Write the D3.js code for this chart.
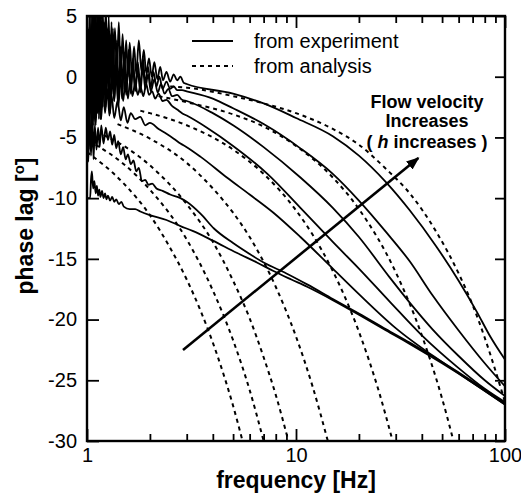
<!DOCTYPE html>
<html>
<head>
<meta charset="utf-8">
<script src="https://cdn.jsdelivr.net/npm/d3@7/dist/d3.min.js"></script>
<style>
  body { margin: 0; background: #fff; }
  text { font-family: "Liberation Sans", Arial, sans-serif; }
</style>
</head>
<body>
<svg id="chart" width="521" height="498"></svg>
<script>
// ---- data: [frequency Hz, phase lag deg] ----
var yTicks = [5, 0, -5, -10, -15, -20, -25, -30];
var xMajorTicks = [1, 10, 100];
var xMinorTicks = [2, 3, 4, 5, 6, 7, 8, 9, 20, 30, 40, 50, 60, 70, 80, 90];

// experiment (solid), lowest start first
var exp1 = [[1.0,-10],[1.035,-10],[1.045,-8.5],[1.055,-7.8],[1.07,-9.2],[1.085,-8.6],[1.1,-9.6],[1.115,-9.0],[1.13,-9.8],[1.145,-9.3],[1.16,-9.9],[1.18,-9.4],[1.2,-10],[1.22,-9.6],[1.24,-10.1],[1.26,-9.8],[1.29,-10.2],[1.32,-9.9],[1.35,-10.3],[1.38,-10.1],[1.42,-10.5],[1.46,-10.3],[1.5,-10.7],[1.6,-10.9],[1.7,-10.9],[1.8,-11.1],[2.0,-11.4],[2.4,-11.8],[2.8,-12.3],[3.2,-12.7],[4,-13.5],[5.2,-14.5],[6.5,-15.3],[7.8,-16],[9.5,-16.7],[11.3,-17.3],[15,-18.4],[20,-19.6],[27,-20.9],[35,-22],[50,-23.6],[70,-25.2],[100,-27]];
var exp2 = [[1.0,-4],[1.015,-7],[1.03,-3],[1.045,-6.5],[1.06,-3.5],[1.075,-6.8],[1.09,-4],[1.11,-6],[1.13,-4.2],[1.15,-5.8],[1.17,-4],[1.2,-5.5],[1.23,-4.2],[1.26,-5.2],[1.29,-4.5],[1.32,-5.6],[1.35,-4.8],[1.38,-5.9],[1.41,-5.3],[1.45,-6.4],[1.49,-5.8],[1.53,-6.8],[1.57,-6.4],[1.62,-7.2],[1.67,-6.9],[1.72,-7.8],[1.77,-7.5],[1.83,-8.6],[1.9,-8.5],[1.97,-8.9],[2.05,-8.8],[2.15,-9.2],[2.3,-9.4],[2.5,-9.7],[2.8,-10],[3.0,-10.3],[3.5,-11.3],[4.05,-12.5],[5,-13.7],[6,-14.6],[7,-15.3],[9,-16.2],[11.3,-17.1],[15,-18.3],[20,-19.5],[27,-20.8],[35,-21.9],[50,-23.5],[70,-25.1],[100,-26.9]];
var exp3 = [[1.0,-1],[1.02,-6],[1.04,0],[1.06,-5],[1.08,1],[1.1,-4],[1.13,0],[1.16,-3.5],[1.19,-0.5],[1.22,-3],[1.25,-1],[1.28,-3.2],[1.31,-1.5],[1.35,-3.4],[1.4,-2],[1.45,-3.6],[1.5,-2.5],[1.56,-3.8],[1.62,-3.0],[1.7,-3.5],[1.8,-3.3],[1.9,-4.0],[2.0,-3.8],[2.2,-4.3],[2.4,-4.7],[2.6,-5.1],[2.8,-5.5],[3.0,-5.8],[3.5,-6.6],[4.67,-8.3],[6,-9.7],[7.8,-11.2],[10.5,-13.2],[15,-15.8],[20,-17.9],[30,-20.7],[50,-23.5],[70,-25.2],[100,-27]];
var exp4 = [[1.0,-1],[1.02,3],[1.04,-3],[1.06,2],[1.08,-4],[1.1,1],[1.12,-3],[1.14,1.5],[1.17,-3.5],[1.2,0.5],[1.23,-2.5],[1.26,1],[1.29,-3],[1.32,0],[1.35,-2],[1.38,0.5],[1.41,-2.5],[1.45,-0.2],[1.49,-2],[1.53,0],[1.57,-1.8],[1.61,-0.2],[1.65,-1.6],[1.7,-0.5],[1.75,-1.5],[1.8,-0.8],[1.86,-1.6],[1.92,-0.6],[1.98,-1.5],[2.05,-1.2],[2.12,-1.8],[2.2,-1.4],[2.3,-2],[2.4,-1.9],[2.55,-2.4],[2.7,-2.7],[2.85,-3],[3.0,-3.2],[3.75,-4.2],[5,-5.7],[7.3,-8],[10.5,-10.8],[15,-13.6],[20,-15.8],[28,-18.5],[40,-21.3],[60,-24],[80,-25.7],[100,-26.8]];
var exp5 = [[1.0,3],[1.02,-5],[1.04,2],[1.06,-4],[1.08,3.5],[1.1,-3],[1.12,4],[1.14,-3.5],[1.16,3],[1.18,-2.5],[1.2,3.5],[1.23,-2],[1.26,2.5],[1.29,-2.5],[1.32,2],[1.35,-2],[1.38,1.8],[1.41,-2.2],[1.44,1.2],[1.47,-1.8],[1.5,1],[1.54,-1.5],[1.58,1.2],[1.62,-1.4],[1.66,0.8],[1.7,-1.2],[1.75,0.5],[1.8,-1.3],[1.85,0.8],[1.9,-1],[1.96,0.2],[2.02,-1.2],[2.1,-0.2],[2.18,-1.3],[2.26,-0.6],[2.35,-1.4],[2.45,-1],[2.55,-1.6],[2.7,-1.5],[2.85,-1.9],[3.0,-2.0],[4,-3.0],[5,-4.0],[7,-5.8],[10.5,-8.3],[15,-10.8],[20,-13.2],[28,-16.5],[35,-18.6],[45,-20.8],[60,-23],[80,-25],[100,-26.3]];
var exp6 = [[1.0,-2],[1.015,4],[1.03,-4],[1.045,5],[1.06,-3],[1.075,6],[1.09,-2],[1.105,5],[1.12,-3],[1.135,6.5],[1.15,-2],[1.17,5],[1.19,-2.5],[1.21,4.5],[1.23,-1.5],[1.25,4],[1.27,-2],[1.29,3.5],[1.31,-1.5],[1.33,4],[1.36,-1],[1.39,3],[1.42,-1.5],[1.45,2.5],[1.48,-1],[1.51,2],[1.54,-1.2],[1.58,2.2],[1.62,-0.8],[1.66,1.5],[1.7,-1],[1.75,1.2],[1.8,-0.8],[1.85,1.6],[1.9,-0.5],[1.96,0.8],[2.02,-0.9],[2.08,0.4],[2.15,-0.8],[2.22,0],[2.3,-1],[2.4,-0.4],[2.5,-1],[2.6,-0.8],[2.7,-1.1],[2.85,-1.1],[3.0,-1.2],[4,-1.8],[5,-2.6],[7,-3.9],[10.5,-5.9],[15,-8],[20,-10.2],[27,-12.8],[35,-15.2],[45,-18],[60,-20.9],[80,-23.6],[100,-25.5]];
var exp7 = [[1.0,1.5],[1.015,-3],[1.03,5.5],[1.045,-1],[1.06,6],[1.075,0.5],[1.09,7],[1.105,-1.5],[1.12,6],[1.135,0],[1.15,7],[1.17,-1],[1.19,5.5],[1.21,0.5],[1.23,6],[1.25,-0.5],[1.27,5],[1.29,0],[1.31,4.5],[1.33,-0.5],[1.36,4],[1.39,0.5],[1.42,4.5],[1.45,0],[1.48,3.5],[1.51,0.5],[1.54,3],[1.57,0],[1.6,2.8],[1.64,0.3],[1.68,2.5],[1.72,0.2],[1.77,3],[1.82,0.5],[1.87,2.2],[1.92,0.3],[1.98,1.5],[2.04,0],[2.1,1.2],[2.17,-0.2],[2.24,0.8],[2.31,-0.3],[2.4,0.4],[2.5,-0.4],[2.6,0.2],[2.7,-0.3],[2.8,0],[2.9,-0.5],[3.0,-0.6],[5,-1.4],[7,-2.2],[10,-3.4],[15,-4.9],[20,-6.5],[27,-8.7],[35,-11],[47,-14],[60,-16.8],[73,-19.3],[85,-21.4],[100,-23.3]];

// analysis (dashed)
var ana1 = [[1.0,-6.2],[1.5,-8.8],[2,-11.4],[2.5,-14.1],[3,-16.7],[3.5,-19.3],[4,-21.9],[4.5,-24.5],[5,-27.1],[5.55,-30]];
var ana2 = [[1.1,-5.6],[1.5,-7.2],[2,-9.3],[3,-13.4],[4,-17.6],[5,-21.7],[6,-25.8],[7,-30]];
var ana3 = [[1.2,-4.8],[1.5,-5.7],[2,-7.3],[3,-10.5],[4,-13.6],[5,-16.8],[6,-19.9],[7,-23.1],[8,-26.2],[9.2,-30]];
var ana4 = [[1.4,-3.9],[2,-5.1],[3,-7.1],[4,-9.2],[5,-11.2],[6,-13.2],[8,-17.3],[10,-21.4],[12,-25.5],[14.2,-30]];
var ana5 = [[1.8,-2.8],[2,-3],[3,-4],[5,-6],[7,-8],[10,-11],[12,-13],[15,-16],[20,-21],[25,-26],[29,-30]];
var ana6 = [[2.2,-1.6],[3,-2.1],[5,-3.1],[7,-4.1],[10,-5.7],[15,-8.3],[20,-10.9],[30,-16.1],[40,-21.3],[50,-26.5],[56.7,-30]];
var ana7 = [[2.5,-0.8],[3,-0.9],[5,-1.6],[7,-2.2],[10,-3.0],[15,-4.3],[20,-5.6],[27,-7.6],[35,-9.6],[47,-12.8],[60,-16.2],[70,-18.8],[80,-21.5],[90,-24.2],[100,-26.8]];

var experiment = [exp1, exp2, exp3, exp4, exp5, exp6, exp7];
var analysis = [ana1, ana2, ana3, ana4, ana5, ana6, ana7];

// arrow "flow velocity increases"
var arrowFrom = [2.88, -22.5];
var arrowTo = [38.5, -6.7];

var dimensions = {
  width: 521,
  height: 498,
  margin: { top: 16, right: 16, bottom: 57, left: 87 }
};
var plotRight = dimensions.width - dimensions.margin.right;
var plotBottom = dimensions.height - dimensions.margin.bottom;

var svg = d3.select("#chart");

var x = d3.scaleLog()
  .domain([1, 100])
  .range([dimensions.margin.left, plotRight]);

var y = d3.scaleLinear()
  .domain([-30, 5])
  .range([plotBottom, dimensions.margin.top]);

svg.append("defs").append("clipPath")
  .attr("id", "plotclip")
  .append("rect")
  .attr("x", dimensions.margin.left)
  .attr("y", dimensions.margin.top)
  .attr("width", plotRight - dimensions.margin.left)
  .attr("height", plotBottom - dimensions.margin.top);

svg.select("defs").append("marker")
  .attr("id", "head")
  .attr("viewBox", "0 0 10 10")
  .attr("refX", 9).attr("refY", 5)
  .attr("markerWidth", 5).attr("markerHeight", 5)
  .attr("markerUnits", "strokeWidth")
  .attr("orient", "auto")
  .append("path")
  .attr("d", "M0,1 L10,5 L0,9 Z")
  .attr("fill", "#000");

var line = d3.line()
  .x(function(d) { return x(d[0]); })
  .y(function(d) { return y(d[1]); })
  .curve(d3.curveMonotoneX);

var curves = svg.append("g").attr("clip-path", "url(#plotclip)");

curves.selectAll("path.ana")
  .data(analysis)
  .enter().append("path")
  .attr("class", "ana")
  .attr("d", line)
  .attr("fill", "none")
  .attr("stroke", "#000")
  .attr("stroke-width", 2)
  .attr("stroke-dasharray", "4,4");

curves.selectAll("path.exp")
  .data(experiment)
  .enter().append("path")
  .attr("class", "exp")
  .attr("d", line)
  .attr("fill", "none")
  .attr("stroke", "#000")
  .attr("stroke-width", 1.8)
  .attr("stroke-linejoin", "round");

// axes, ticks point inward
function styleAxis(g) {
  g.select(".domain").remove();
  g.selectAll(".tick line").attr("stroke", "#000").attr("stroke-width", 1.8);
  g.selectAll(".tick text")
    .attr("fill", "#000")
    .style("font-size", "20px");
}

svg.append("g")
  .attr("transform", "translate(" + dimensions.margin.left + ",0)")
  .call(d3.axisLeft(y).tickValues(yTicks).tickSize(-12).tickPadding(10)
    .tickFormat(function(d) { return String(d); }))
  .call(styleAxis);

svg.append("g")
  .attr("transform", "translate(" + plotRight + ",0)")
  .call(d3.axisRight(y).tickValues(yTicks).tickSize(-10).tickFormat(""))
  .call(styleAxis);

svg.append("g")
  .attr("transform", "translate(0," + plotBottom + ")")
  .call(d3.axisBottom(x).tickValues(xMinorTicks).tickSize(-7).tickFormat(""))
  .call(styleAxis);

svg.append("g")
  .attr("transform", "translate(0," + plotBottom + ")")
  .call(d3.axisBottom(x).tickValues(xMajorTicks).tickSize(-12).tickPadding(7)
    .tickFormat(function(d) { return String(d); }))
  .call(styleAxis);

svg.append("g")
  .attr("transform", "translate(0," + dimensions.margin.top + ")")
  .call(d3.axisTop(x).tickValues(xMinorTicks).tickSize(-7).tickFormat(""))
  .call(styleAxis);

svg.append("g")
  .attr("transform", "translate(0," + dimensions.margin.top + ")")
  .call(d3.axisTop(x).tickValues(xMajorTicks).tickSize(-12).tickFormat(""))
  .call(styleAxis);

// frame
svg.append("rect")
  .attr("x", dimensions.margin.left)
  .attr("y", dimensions.margin.top)
  .attr("width", plotRight - dimensions.margin.left)
  .attr("height", plotBottom - dimensions.margin.top)
  .attr("fill", "none")
  .attr("stroke", "#000")
  .attr("stroke-width", 2.4);

// arrow
svg.append("line")
  .attr("x1", x(arrowFrom[0])).attr("y1", y(arrowFrom[1]))
  .attr("x2", x(arrowTo[0])).attr("y2", y(arrowTo[1]))
  .attr("stroke", "#000")
  .attr("stroke-width", 2.6)
  .attr("marker-end", "url(#head)");

// legend
var legend = svg.append("g");
legend.append("line")
  .attr("x1", 192).attr("x2", 233).attr("y1", 41).attr("y2", 41)
  .attr("stroke", "#000").attr("stroke-width", 1.8);
legend.append("line")
  .attr("x1", 192).attr("x2", 233).attr("y1", 66).attr("y2", 66)
  .attr("stroke", "#000").attr("stroke-width", 1.8)
  .attr("stroke-dasharray", "4,4");
legend.append("text").attr("x", 254).attr("y", 48)
  .style("font-size", "20px").text("from experiment");
legend.append("text").attr("x", 254).attr("y", 73)
  .style("font-size", "20px").text("from analysis");

// annotation
var note = svg.append("g")
  .attr("text-anchor", "middle")
  .style("font-size", "18px")
  .style("font-weight", "bold");
note.append("text").attr("x", 427).attr("y", 108).text("Flow velocity");
note.append("text").attr("x", 427).attr("y", 127).text("Increases");
var t3 = note.append("text").attr("x", 427).attr("y", 148);
t3.append("tspan").text("( ");
t3.append("tspan").style("font-style", "italic").text("h");
t3.append("tspan").text(" increases )");

// axis titles
svg.append("text")
  .attr("x", 296).attr("y", 488)
  .attr("text-anchor", "middle")
  .style("font-size", "23px")
  .style("font-weight", "bold")
  .text("frequency [Hz]");

var yl = svg.append("text")
  .attr("text-anchor", "middle")
  .attr("transform", "translate(33,226) rotate(-90)")
  .style("font-size", "23px")
  .style("font-weight", "bold");
yl.append("tspan").text("phase lag [");
yl.append("tspan").attr("dy", -9).style("font-size", "15px").text("o");
yl.append("tspan").attr("dy", 9).text("]");
</script>
</body>
</html>
